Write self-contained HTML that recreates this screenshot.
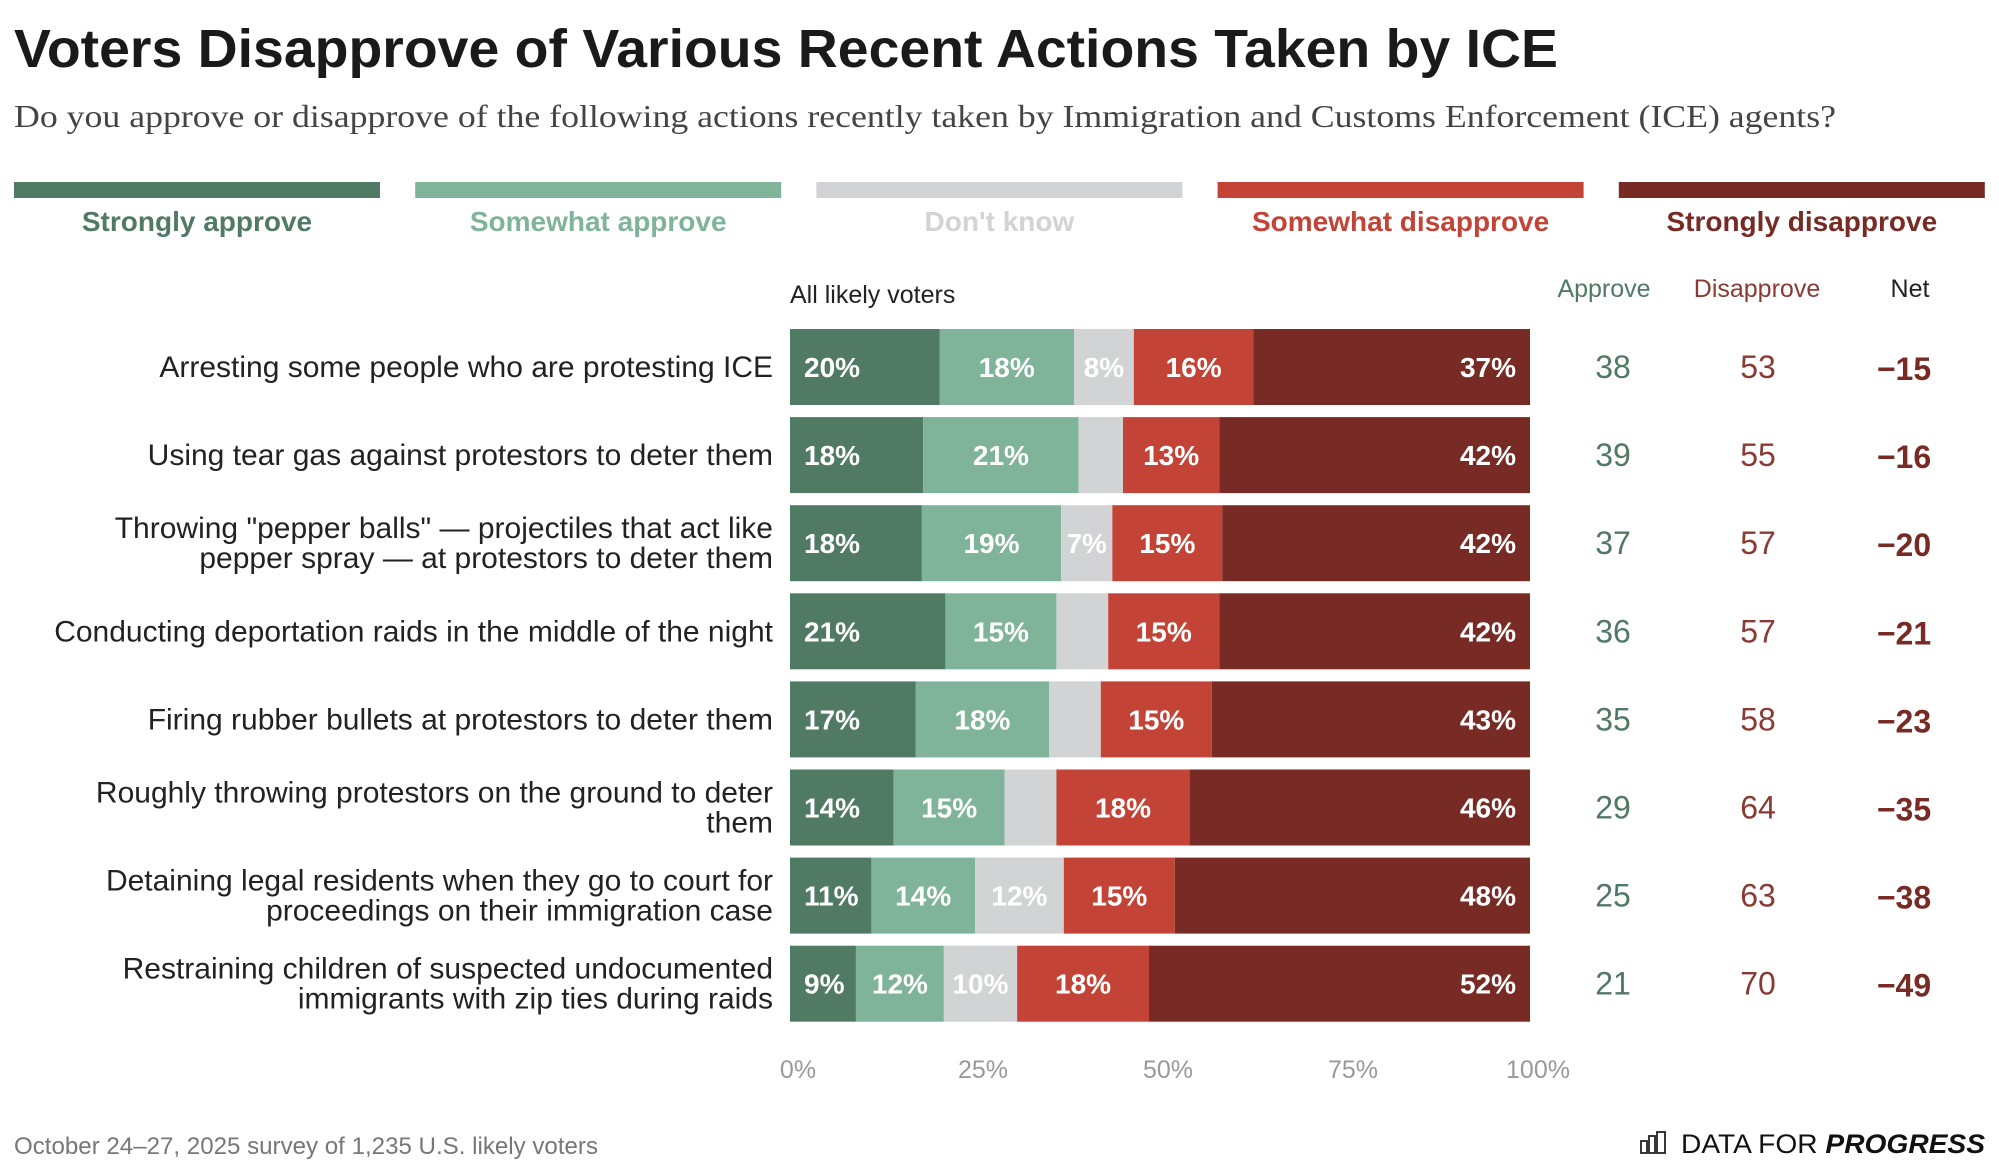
<!DOCTYPE html>
<html><head><meta charset="utf-8"><style>
html,body{margin:0;padding:0;background:#fff;}
svg{display:block;font-family:"Liberation Sans",sans-serif;}
</style></head><body>
<svg id="chart" width="1999" height="1175" viewBox="0 0 1999 1175" xmlns="http://www.w3.org/2000/svg">
<text x="14" y="67" font-size="54" font-weight="bold" fill="#1a1a1a" textLength="1544" lengthAdjust="spacingAndGlyphs">Voters Disapprove of Various Recent Actions Taken by ICE</text>
<text x="14" y="127" font-family="Liberation Serif, serif" font-size="32" fill="#444" textLength="1822" lengthAdjust="spacingAndGlyphs">Do you approve or disapprove of the following actions recently taken by Immigration and Customs Enforcement (ICE) agents?</text>
<g id="legend"></g>
<text x="790" y="303" font-size="25" fill="#222">All likely voters</text>
<text x="1604" y="297" font-size="25" fill="#517a64" text-anchor="middle">Approve</text>
<text x="1757" y="297" font-size="25" fill="#8a3a33" text-anchor="middle">Disapprove</text>
<text x="1910" y="297" font-size="25" fill="#222" text-anchor="middle">Net</text>
<g id="bars"></g>
<g id="axis"></g>
<text x="14" y="1154" font-size="24" fill="#777" textLength="584" lengthAdjust="spacingAndGlyphs">October 24–27, 2025 survey of 1,235 U.S. likely voters</text>
<g transform="translate(0,8)">
<g fill="none" stroke="#222" stroke-width="1.8">
<rect x="1641" y="1133" width="6" height="12"/><rect x="1649" y="1128" width="6" height="17"/><rect x="1657" y="1124" width="8" height="21"/>
</g>
<text x="1681" y="1145" font-size="27" fill="#111" textLength="304" lengthAdjust="spacingAndGlyphs"><tspan>DATA FOR </tspan><tspan font-weight="bold" font-style="italic">PROGRESS</tspan></text>
</g>
</svg>
<script>
const categories = [
 ["Arresting some people who are protesting ICE"],
 ["Using tear gas against protestors to deter them"],
 ["Throwing \"pepper balls\" — projectiles that act like","pepper spray — at protestors to deter them"],
 ["Conducting deportation raids in the middle of the night"],
 ["Firing rubber bullets at protestors to deter them"],
 ["Roughly throwing protestors on the ground to deter","them"],
 ["Detaining legal residents when they go to court for","proceedings on their immigration case"],
 ["Restraining children of suspected undocumented","immigrants with zip ties during raids"]
];
const stronglyApprove = [20,18,18,21,17,14,11,9];
const somewhatApprove = [18,21,19,15,18,15,14,12];
const dontKnow = [8,6,7,7,7,7,12,10];
const dontKnowShown = [true,false,true,false,false,false,true,true];
const somewhatDisapprove = [16,13,15,15,15,18,15,18];
const stronglyDisapprove = [37,42,42,42,43,46,48,52];
const approveTotals = [38,39,37,36,35,29,25,21];
const disapproveTotals = [53,55,57,57,58,64,63,70];
const netValues = [-15,-16,-20,-21,-23,-35,-38,-49];
const tickValues = [0,25,50,75,100];
const seriesNames = ["Strongly approve","Somewhat approve","Don't know","Somewhat disapprove","Strongly disapprove"];

const NS="http://www.w3.org/2000/svg";
const colors=["#517a64","#7fb39a","#d2d3d5","#c34437","#772b24"];
const labelColors=["#517a64","#7fb39a","#d2d3d5","#c34437","#772b24"];
const x0=790,x1=1530,rowTop=329,rowPitch=88.1,barH=76;
const xs=v=>x0+(x1-x0)*v/100;
function mk(tag,attrs,parent){const e=document.createElementNS(NS,tag);for(const k in attrs)e.setAttribute(k,attrs[k]);parent.appendChild(e);return e;}

const legend=document.getElementById('legend');
seriesNames.forEach((n,i)=>{
  const lx=14+i*401.2;
  const r=mk('rect',{x:lx,y:182,width:366,height:16,fill:colors[i]},legend);
  
  
  const t=mk('text',{x:lx+183,y:231,'font-size':28,'font-weight':'bold','text-anchor':'middle',fill:labelColors[i]},legend);
  
  
  t.textContent=n;
});

const bars=document.getElementById('bars');
categories.forEach((lines,r)=>{
  const y=rowTop+r*rowPitch, cy=y+barH/2;
  const lab=mk('text',{x:773,'font-size':30,'text-anchor':'end',fill:'#222'},bars);
  
  
  lines.forEach((l,k)=>{
    const ty=lines.length===1?cy+10:cy-5+(k*30);
    const ts=mk('tspan',{x:773,y:ty},lab);ts.textContent=l;
  });
  const vals=[stronglyApprove[r],somewhatApprove[r],dontKnow[r],somewhatDisapprove[r],stronglyDisapprove[r]];
  const tot=vals.reduce((a,b)=>a+b,0);
  let acc=0;
  vals.forEach((v,i)=>{
    const a=xs(acc/tot*100), b=xs((acc+v)/tot*100);
    const rect=mk('rect',{x:a,y:y,width:b-a,height:barH,fill:colors[i]},bars);
    
    
    acc+=v;
    if(i===2&&!dontKnowShown[r])return;
    let tx,anchor;
    if(i===0){tx=a+14;anchor='start';}
    else if(i===4){tx=b-14;anchor='end';}
    else {tx=(a+b)/2;anchor='middle';}
    const t=mk('text',{x:tx,y:cy+10,'font-size':28,'font-weight':'bold','text-anchor':anchor,fill:'#fff'},bars);
    
    
    t.textContent=v+'%';
  });
  const ap=mk('text',{x:1613,y:cy+11,'font-size':32,'text-anchor':'middle',fill:'#517a64'},bars);
  
  
  ap.textContent=approveTotals[r];
  const dp=mk('text',{x:1758,y:cy+11,'font-size':32,'text-anchor':'middle',fill:'#8a3a33'},bars);
  
  
  dp.textContent=disapproveTotals[r];
  const nt=mk('text',{x:1904,y:cy+13,'font-size':32,'font-weight':'bold','text-anchor':'middle',fill:'#772b24'},bars);
  
  
  nt.textContent=(netValues[r]<0?'\u2212':'')+Math.abs(netValues[r]);
});

const axis=document.getElementById('axis');
tickValues.forEach(v=>{
  const t=mk('text',{x:xs(v)+8,y:1078,'font-size':25,'text-anchor':'middle',fill:'#999'},axis);
  
  
  t.textContent=v+'%';
});
</script>
</body></html>
